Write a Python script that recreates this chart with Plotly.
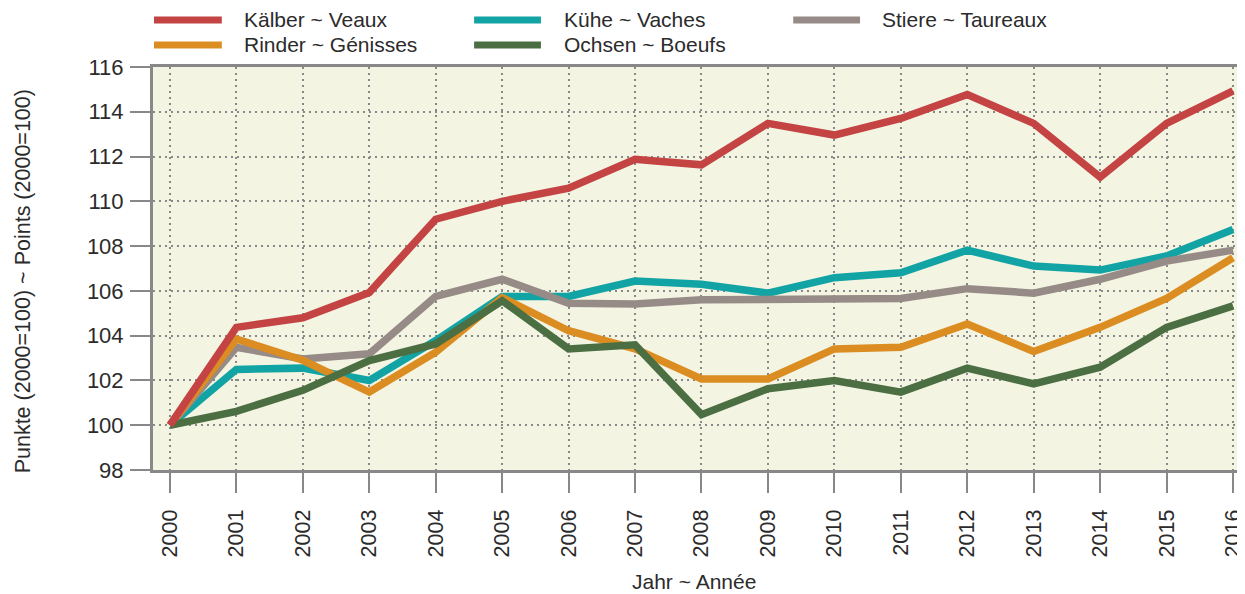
import plotly.graph_objects as go

years = list(range(2000, 2017))
kaelber = [100, 104.37, 104.8, 105.93, 109.2, 110.0, 110.59, 111.88, 111.63, 113.48, 112.96, 113.7, 114.77, 113.48, 111.08, 113.48, 114.93]
kuehe = [100, 102.49, 102.55, 102.0, 103.78, 105.75, 105.75, 106.44, 106.3, 105.9, 106.59, 106.81, 107.82, 107.11, 106.93, 107.56, 108.74]
stiere = [100, 103.48, 102.96, 103.19, 105.75, 106.52, 105.45, 105.41, 105.6, 105.63, 105.6, 105.66, 106.1, 105.9, 106.52, 107.33, 107.82]
rinder = [100, 103.85, 102.9, 101.48, 103.26, 105.7, 104.22, 103.41, 102.07, 102.07, 103.41, 103.48, 104.52, 103.29, 104.37, 105.66, 107.48]
ochsen = [100, 100.62, 101.56, 102.89, 103.63, 105.56, 103.41, 103.59, 100.47, 101.63, 102.0, 101.48, 102.55, 101.85, 102.59, 104.37, 105.33]

series_names = ["Kälber ~ Veaux", "Kühe ~ Vaches", "Stiere ~ Taureaux", "Rinder ~ Génisses", "Ochsen ~ Boeufs"]
series_values = [kaelber, kuehe, stiere, rinder, ochsen]
colors = ["#C44343", "#12A4A4", "#968B87", "#DB8D22", "#4B6F42"]
y_ticks = list(range(98, 117, 2))

FONT = "Liberation Sans, Arial, sans-serif"
TXT = "#2b2b2b"
AX = "#888888"

fig = go.Figure()
draw_order = [1, 2, 3, 4, 0]
for i in draw_order:
    fig.add_trace(go.Scatter(x=years, y=series_values[i], mode="lines", name=series_names[i],
                             line=dict(color=colors[i], width=7.5), showlegend=False, cliponaxis=False))

# page body has an 8px margin: figure pixel = screen pixel - 8
OFF = 8
W, H = 1245 - OFF, 594 - OFF
L, R, T, B = 153, 1245, 67, 470  # plot area in screen pixels


def px(x):
    return (x - L) / (R - L)


def py(y):
    return (B - y) / (B - T)


legend_pos = {0: (154, 222, 242, 20), 3: (154, 222, 242, 45), 1: (475, 542, 563, 20),
              4: (475, 542, 563, 45), 2: (795, 862, 882, 20)}
for i, (x0, x1, xt, yy) in legend_pos.items():
    fig.add_shape(type="line", xref="paper", yref="paper", x0=px(x0), x1=px(x1), y0=py(yy), y1=py(yy),
                  line=dict(color=colors[i], width=7))
    fig.add_annotation(xref="paper", yref="paper", x=px(xt), y=py(yy), text=series_names[i], showarrow=False,
                       xanchor="left", yanchor="middle", font=dict(family=FONT, size=21, color=TXT))

fig.add_annotation(xref="paper", yref="paper", x=px(695), y=py(581), text="Jahr ~ Année", showarrow=False,
                   xanchor="center", yanchor="middle", font=dict(family=FONT, size=21, color=TXT))
fig.add_annotation(xref="paper", yref="paper", x=px(23), y=py(281), text="Punkte (2000=100) ~ Points (2000=100)",
                   showarrow=False, textangle=-90, xanchor="center", yanchor="middle",
                   font=dict(family=FONT, size=21.5, color=TXT))

fig.update_layout(
    width=W, height=H,
    margin=dict(l=L - OFF, r=0, t=T - OFF, b=H - (B - OFF), pad=0),
    paper_bgcolor="white", plot_bgcolor="#F3F4E2",
    showlegend=False,
    xaxis=dict(range=[1999.745, 2016 + 9 / 66.63], tickmode="array", tickvals=years,
               ticktext=[str(y) for y in years], tickangle=-90,
               tickfont=dict(family=FONT, size=21.5, color=TXT),
               ticks="outside", ticklen=20, tickwidth=2, tickcolor=AX, ticklabelstandoff=8,
               ticklabeloverflow="allow",
               showline=True, linecolor=AX, linewidth=3, mirror=True,
               showgrid=True, gridcolor="#888888", gridwidth=2, griddash="2px,4px", zeroline=False),
    yaxis=dict(range=[98, 116], tickmode="array", tickvals=y_ticks,
               tickfont=dict(family=FONT, size=22, color=TXT),
               ticks="outside", ticklen=20, tickwidth=2, tickcolor=AX, ticklabelstandoff=2,
               showline=True, linecolor=AX, linewidth=3,
               showgrid=True, gridcolor="#888888", gridwidth=2, griddash="2px,4px", zeroline=False),
)

fig.write_html("out.html")
